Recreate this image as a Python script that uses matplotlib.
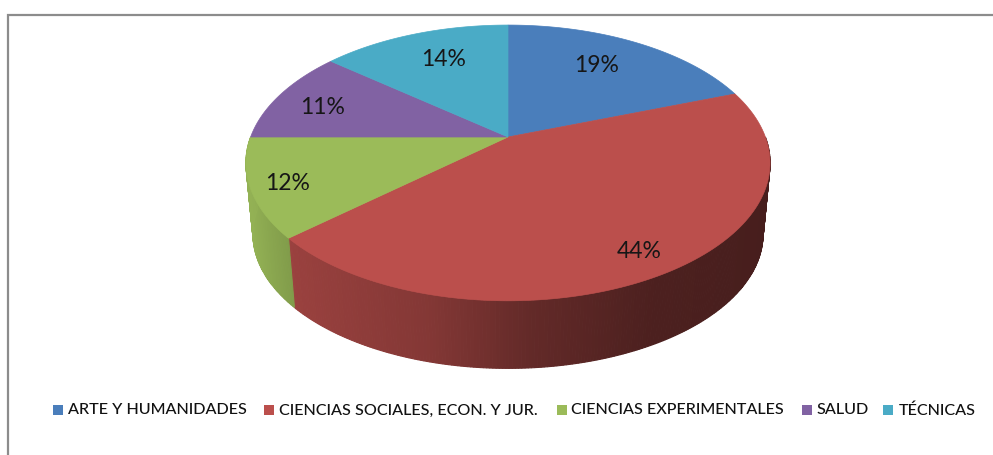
import numpy as np
import matplotlib.pyplot as plt
from matplotlib.colors import to_rgb
from matplotlib.patches import Rectangle

categories = ['ARTE Y HUMANIDADES', 'CIENCIAS SOCIALES, ECON. Y JUR.',
              'CIENCIAS EXPERIMENTALES', 'SALUD', 'TÉCNICAS']
# shares, the labels show them rounded
values = [19.4, 44.0, 11.6, 11.0, 14.0]
colors = ['#4a7ebb', '#bb4f4c', '#9bbb59', '#8162a3', '#4aabc6']

# pixel layout of the tilted pie
cx, cy = 508, 137
a, b, k = 257.4, 133.0, 0.188
depth, shrink = 72, 0.973
label_pos = [(597, 66), (639, 252), (288, 183), (323, 108), (444, 59)]
swatch_x = [53, 264, 557, 802, 883]
text_x = [68, 279, 571, 816, 899]


def project(theta, s=1.0, dy=0.0):
    # clockwise from 12 o'clock, perspective squash of the unit circle
    u, v = np.sin(theta), np.cos(theta)
    w = 1 + k * v
    return cx + s * a * u / w, cy + dy - s * b * v / w


def shade(x):
    return np.interp(x, [246, 293, 430, 530, 650, 770],
                     [0.95, 0.82, 0.70, 0.53, 0.41, 0.38])


fig = plt.figure(figsize=(9.93, 4.55), dpi=100)
ax = fig.add_axes([0, 0, 1, 1])
ax.set_xlim(0, 993)
ax.set_ylim(455, 0)
ax.axis('off')

ax.plot([8, 8, 993], [455, 15, 15], color='#8c8c8c', lw=1.6, solid_joinstyle='miter')

edges = np.cumsum([0] + values) / sum(values) * 2 * np.pi

# side wall, one thin quad per step of angle, front half only
for i in range(len(values)):
    ts = np.linspace(edges[i], edges[i + 1], int(values[i] * 6) + 2)
    for t0, t1 in zip(ts[:-1], ts[1:]):
        if np.cos((t0 + t1) / 2) > 0.0:
            continue
        x0, y0 = project(t0)
        x1, y1 = project(t1)
        x2, y2 = project(t1, shrink, depth)
        x3, y3 = project(t0, shrink, depth)
        rgb = np.array(to_rgb(colors[i])) * shade((x0 + x1) / 2)
        ax.fill([x0, x1, x2, x3], [y0, y1, y2, y3], color=rgb, lw=0.8, zorder=2)

# top face
for i in range(len(values)):
    ts = np.linspace(edges[i], edges[i + 1], 120)
    x, y = project(ts)
    ax.fill(np.r_[cx, x], np.r_[cy, y], color=colors[i], lw=0.5, zorder=3)

for v, (x, y) in zip(values, label_pos):
    ax.text(x, y, f'{v:.0f}%', ha='center', va='center', fontsize=16.5,
            family='Lato', color='#161616', zorder=4)

for name, c, sx, tx in zip(categories, colors, swatch_x, text_x):
    ax.add_patch(Rectangle((sx, 405), 10, 10, color=c, lw=0))
    ax.text(tx, 410.5, name, ha='left', va='center', fontsize=11.65,
            family='Lato', weight='medium', color='#111111')

fig.savefig('out.png', dpi=100)
